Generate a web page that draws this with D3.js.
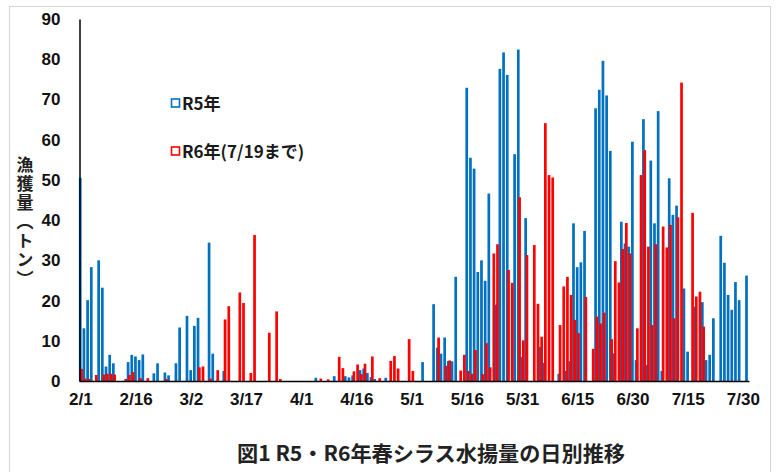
<!DOCTYPE html>
<html>
<head>
<meta charset="utf-8">
<script src="https://cdn.jsdelivr.net/npm/d3@7/dist/d3.min.js"></script>
<style>
  body { margin: 0; background: #fff; }
  svg { display: block; }
</style>
</head>
<body>
<svg id="chart" width="779" height="472"></svg>
<script>
// Daily spring shirasu landings (tonnes); index 0 = 2/1, one value per day.
const dayLabels = d3.range(182); // 2/1 .. 7/31

// R5 (2023) season, 2/1 .. 7/31
const r5Landings = [
  50.5, 13.1, 20.1, 28.3, 0, 30.0, 23.2, 3.6, 6.5, 4.4, 0, 0, 0, 4.7, 6.5,      // 2/1-
  6.1, 5.2, 6.6, 0, 0, 1.9, 4.4, 0, 2.1, 1.4, 0, 4.4, 13.3, 0, 16.2,            // 2/16-
  2.7, 13.7, 15.7, 0, 0, 34.4, 6.8, 0, 0, 2.5, 0, 0, 0, 0, 0,                   // 3/2-
  0, 0, 0, 0, 0, 0, 0, 0, 0, 0, 0, 0, 0, 0, 0,                                  // 3/17-
  0, 0, 0, 0, 0.8, 0, 0, 0, 0, 1.2, 0, 0, 1.2, 0.9, 1.4,                        // 4/1-
  0, 2.7, 3.1, 2.0, 1.0, 0.5, 0, 0, 0.8, 0, 0, 0, 0, 0, 0,                      // 4/16-
  0, 0, 0, 4.7, 0, 0, 19.1, 8.3, 6.8, 10.8, 5.0, 4.9, 25.9, 0, 0,               // 5/1-
  72.9, 55.5, 52.8, 27.1, 30.0, 24.9, 46.6, 0, 19.0, 77.6, 81.7, 76.1, 0, 56.4, 82.4, // 5/16-
  6.0, 40.5, 0, 0, 0, 8.5, 4.5, 0, 0, 0, 1.8, 0, 2.5, 4.9, 39.2,                // 5/31-
  28.3, 29.5, 37.3, 0, 0, 67.8, 72.4, 79.6, 71.0, 57.2, 6.9, 0, 39.6, 34.2, 33.4, // 6/15-
  59.5, 5.2, 0, 65.1, 4.0, 54.8, 39.2, 67.1, 2.5, 0, 50.4, 41.3, 43.6, 0, 23.0, // 6/30-
  7.3, 0, 18.5, 0, 19.6, 5.2, 6.5, 15.6, 0, 36.1, 29.4, 21.4, 17.7, 24.6, 20.1, // 7/15-
  0, 26.2                                                                       // 7/30-
];

// R6 (2024) season, 2/1 .. 7/19
const r6Landings = [
  3.0, 0.6, 0.5, 0, 1.5, 0, 1.6, 1.8, 1.8, 1.6, 0, 0, 0.5, 1.5, 2.2,            // 2/1-
  0, 0.7, 0, 0.7, 0, 0, 0, 0, 0.5, 0, 0, 0, 0, 0, 0,                            // 2/16-
  0, 0, 3.4, 3.6, 0, 0.6, 0, 2.7, 0, 15.3, 18.6, 0, 0, 22.0, 19.4,              // 3/2-
  0, 2.0, 36.3, 0, 0, 0, 12.0, 0, 17.3, 0.5, 0, 0, 0, 0, 0,                     // 3/17-
  0, 0, 0, 0, 0, 0.6, 0, 0.4, 0, 0, 6.0, 3.2, 0, 0, 2.4,                        // 4/1-
  4.1, 1.7, 4.3, 0, 6.1, 0, 0.7, 0, 0, 5.0, 6.2, 3.1, 0, 0, 10.4,               // 4/16-
  2.5, 0, 0, 0, 0, 0, 0, 10.8, 0, 3.8, 5.1, 0, 0, 2.6, 6.5,                     // 5/1-
  2.5, 1.8, 7.7, 0, 1.7, 9.4, 3.4, 31.7, 34.0, 0, 0, 27.6, 24.4, 0, 45.7,       // 5/16-
  10.1, 31.3, 0, 33.8, 19.2, 11.0, 64.1, 51.2, 50.6, 0, 13.9, 23.5, 25.9, 21.4, 15.2, // 5/31-
  11.9, 0, 20.9, 0, 8.0, 16.0, 14.3, 17.0, 0, 10.4, 29.8, 24.5, 32.8, 39.3, 31.7, // 6/15-
  0, 13.1, 51.2, 57.4, 33.4, 13.9, 34.0, 0, 38.4, 33.2, 38.8, 15.6, 40.7, 74.2, 0, // 6/30-
  0, 41.8, 21.0, 22.2, 13.5                                                     // 7/15-
];

const tickDays = [0, 15, 30, 45, 60, 75, 90, 105, 120, 135, 150, 165, 180];
const tickLabels = ["2/1", "2/16", "3/2", "3/17", "4/1", "4/16", "5/1", "5/16",
                    "5/31", "6/15", "6/30", "7/15", "7/30"];
const yTicks = [0, 10, 20, 30, 40, 50, 60, 70, 80, 90];

const seriesNames = ["R5年", "R6年(7/19まで)"];
const seriesColors = ["#0070C0", "#FF0000"];
const yTitle = "漁獲量（トン）";
const chartTitle = "図1  R5・R6年春シラス水揚量の日別推移";

const svg = d3.select("#chart");

// outer frame
svg.append("rect")
  .attr("x", 9.5).attr("y", 6.5)
  .attr("width", 761).attr("height", 480)
  .attr("fill", "none").attr("stroke", "#d4d4d4").attr("stroke-width", 1);

const plotLeft = 79, plotTop = 19, plotBottom = 381;
const step = 3.681;

const x = d3.scaleBand()
  .domain(dayLabels)
  .range([plotLeft, plotLeft + dayLabels.length * step]);

const y = d3.scaleLinear().domain([0, 90]).range([plotBottom, plotTop]);

const barW = 2.7;
const shift = [-0.6, 0.7];

[r5Landings, r6Landings].forEach((vals, si) => {
  svg.append("g")
    .selectAll("rect")
    .data(vals.map((v, i) => ({ day: dayLabels[i], v })).filter(d => d.v > 0))
    .join("rect")
    .attr("x", d => x(d.day) + x.bandwidth() / 2 + shift[si] - barW / 2)
    .attr("y", d => y(d.v))
    .attr("width", barW)
    .attr("height", d => y(0) - y(d.v))
    .attr("fill", seriesColors[si]);
});

// y axis
const yAxis = svg.append("g")
  .attr("transform", `translate(${plotLeft + 0.5},0)`)
  .call(d3.axisLeft(y).tickValues(yTicks).tickSize(0).tickPadding(19).tickSizeOuter(0));
yAxis.select(".domain").attr("stroke", "#000").attr("stroke-width", 1.5);
yAxis.selectAll("text")
  .attr("font-family", "'Liberation Sans', Arial, sans-serif")
  .attr("font-weight", "bold")
  .attr("font-size", 17)
  .attr("fill", "#111");

// x axis
const xAxis = svg.append("g")
  .attr("transform", `translate(0,${plotBottom})`)
  .call(d3.axisBottom(x)
    .tickValues(tickDays)
    .tickFormat((d, i) => tickLabels[i])
    .tickSize(0).tickPadding(12).tickSizeOuter(0));
xAxis.select(".domain").attr("stroke", "#000").attr("stroke-width", 1.5);
xAxis.selectAll("text")
  .attr("font-family", "'Liberation Sans', Arial, sans-serif")
  .attr("font-weight", "bold")
  .attr("font-size", 17)
  .attr("fill", "#111");

// y axis title, vertical writing
svg.append("text")
  .attr("x", 25)
  .attr("y", 156)
  .attr("writing-mode", "vertical-rl")
  .style("writing-mode", "vertical-rl")
  .attr("letter-spacing", 2)
  .attr("font-family", "'Noto Sans CJK JP', sans-serif")
  .attr("font-weight", "bold")
  .attr("font-size", 17)
  .attr("fill", "#222")
  .text(yTitle);

// legend
const legend = svg.append("g");
seriesNames.forEach((name, i) => {
  const ly = 104 + i * 48;
  legend.append("rect")
    .attr("x", 171.5).attr("y", ly - 5)
    .attr("width", 8).attr("height", 8)
    .attr("fill", "#fff")
    .attr("stroke", seriesColors[i]).attr("stroke-width", 1.6);
  legend.append("text")
    .attr("x", 182).attr("y", ly + 6)
    .attr("font-family", "'Noto Sans CJK JP', sans-serif")
    .attr("font-weight", "bold")
    .attr("font-size", 17)
    .attr("fill", "#1a1a1a")
    .text(name);
});

// chart title
svg.append("text")
  .attr("x", 237).attr("y", 461)
  .attr("textLength", 388)
  .attr("lengthAdjust", "spacingAndGlyphs")
  .attr("font-family", "'Noto Sans CJK JP', sans-serif")
  .attr("font-weight", "bold")
  .attr("font-size", 21)
  .attr("fill", "#222")
  .text(chartTitle);
</script>
</body>
</html>
